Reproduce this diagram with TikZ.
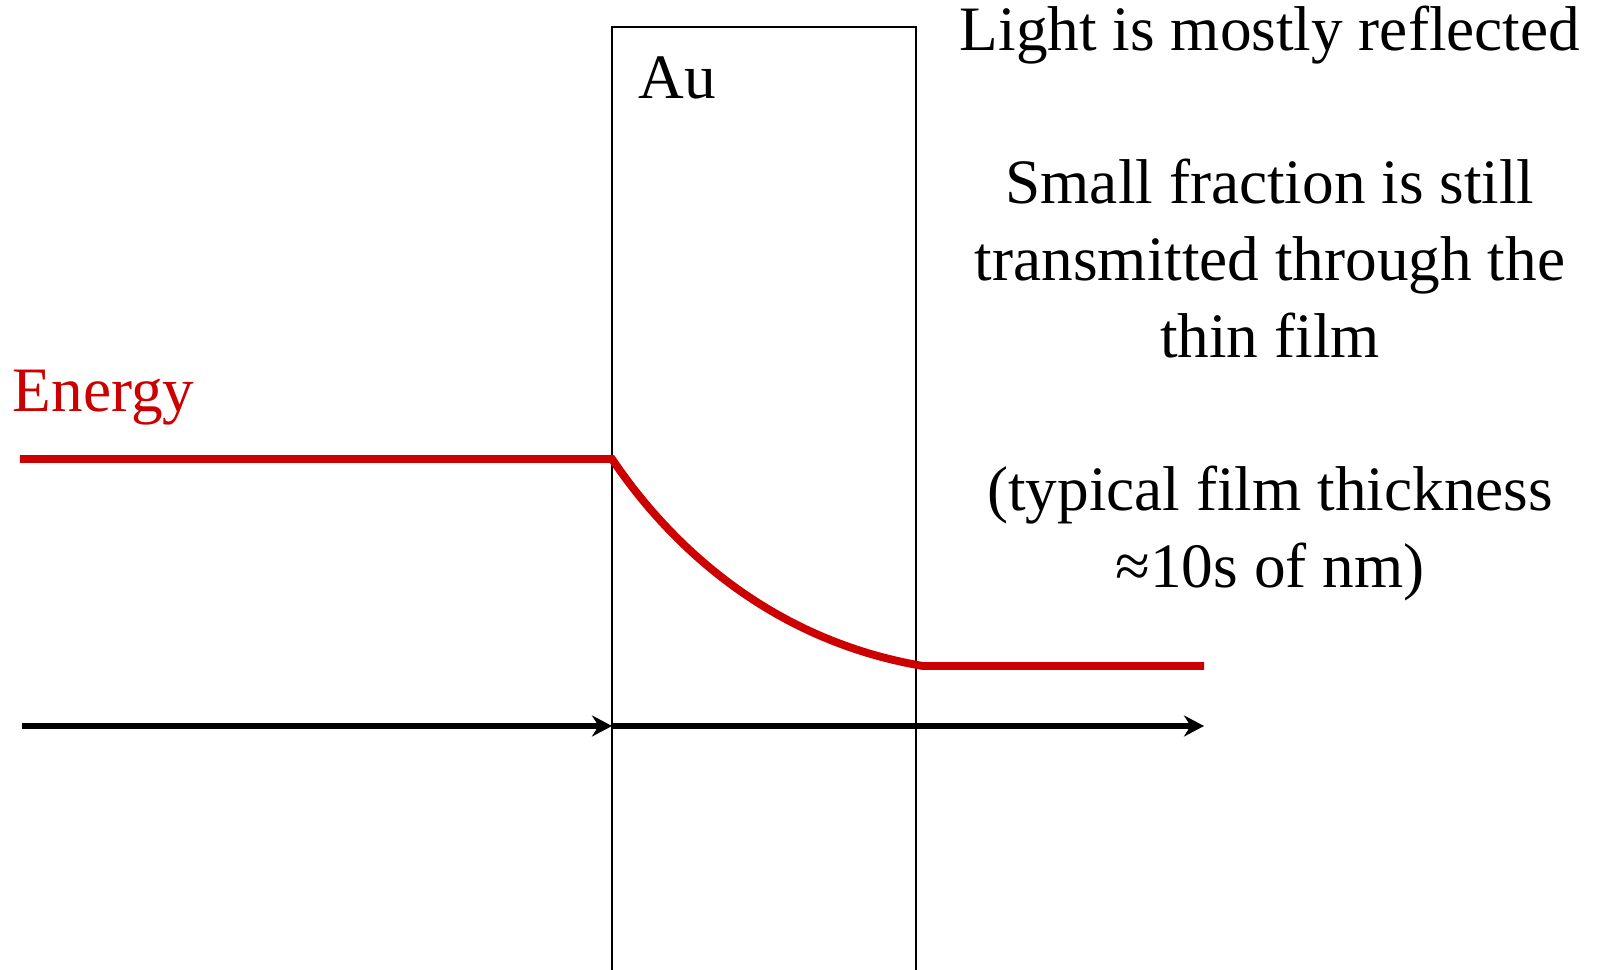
\documentclass[tikz,border=0pt]{standalone}
\usepackage{fontspec}
\setmainfont{Liberation Serif}
\usetikzlibrary{arrows.meta}
\definecolor{energyred}{HTML}{CC0000}

\begin{document}
\begin{tikzpicture}[
        txt/.style={inner sep=0pt, anchor=base, font=\fontsize{36}{43}\selectfont},
        film/.style={draw, line width=1.1pt},
        axis/.style={line width=3.5pt, -{Stealth[length=4mm, width=4.2mm]}},
        energy/.style={energyred, line width=4.5pt},
    ]
    \useasboundingbox (0, 0) rectangle (32.04, 19.4);
    % gold film
    \draw[film] (12.24, -0.5) -- (12.24, 18.86) -- (18.32, 18.86) -- (18.32, -0.5);
    \node[txt, anchor=base west] (au) at (12.76, 17.42) {Au};
    % position axis
    \coordinate (start) at (0.44, 4.88);
    \coordinate (edge)  at (12.24, 4.88);
    \coordinate (stop)  at (24.08, 4.88);
    \draw[axis] (start) -- (edge);
    \draw[axis] (edge) -- (stop);
    % energy through the film
    \draw[energy] (0.4, 10.22) -- (12.24, 10.22)
        .. controls (13.4, 8.5) and (15.4, 6.6) .. (18.46, 6.08) -- (24.08, 6.08);
    \node[txt, anchor=base west, text=energyred] (energylbl) at (0.25, 11.16) {Energy};
    % notes
    \node[txt] (refl)   at (25.4, 18.38) {Light is mostly reflected};
    \node[txt] (trans1) at (25.4, 15.32) {Small fraction is still};
    \node[txt] (trans2) at (25.4, 13.78) {transmitted through the};
    \node[txt] (trans3) at (25.4, 12.24) {thin film};
    \node[txt] (thick1) at (25.4, 9.18)  {(typical film thickness};
    \node[txt] (thick2) at (25.4, 7.64)  {≈10s of nm)};
\end{tikzpicture}
\end{document}
